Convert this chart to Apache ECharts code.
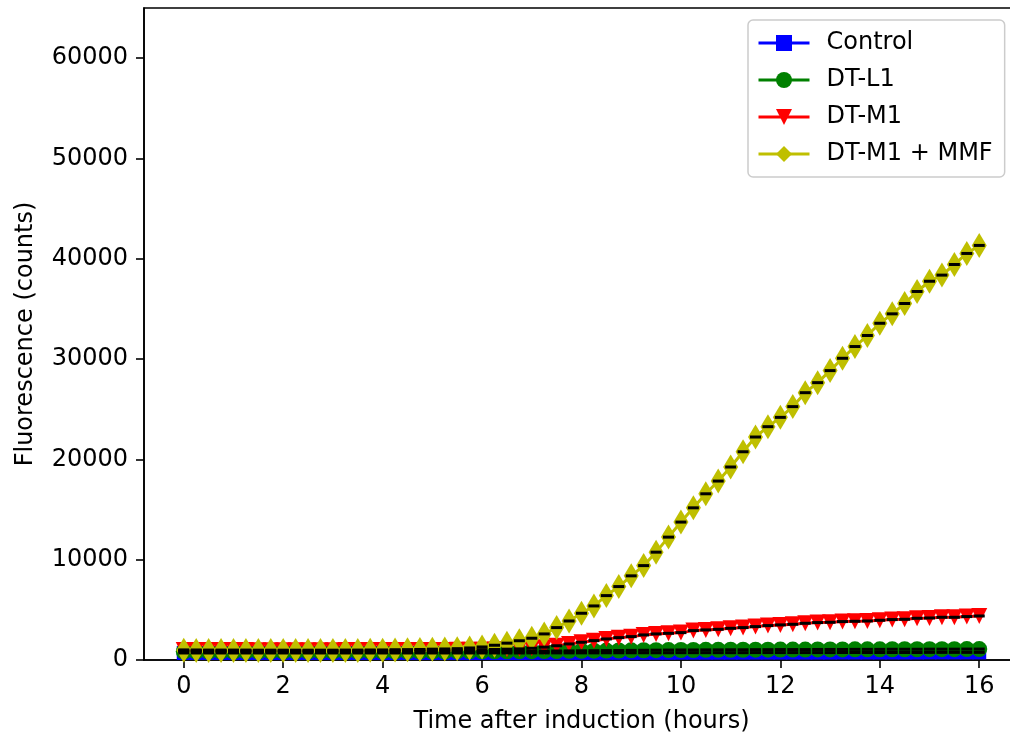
<!DOCTYPE html>
<html>
<head>
<meta charset="utf-8">
<script src="https://cdn.jsdelivr.net/npm/echarts@6/dist/echarts.min.js"></script>
<style>
html, body { margin: 0; padding: 0; background: #fff; }
#chart { width: 1010px; height: 737px; }
</style>
</head>
<body>
<div id="chart"></div>
<script>
// sampling times (hours after induction)
var hours = [
	0, 0.25, 0.5, 0.75, 1, 1.25, 1.5, 1.75, 2, 2.25, 2.5, 2.75, 3, 3.25, 3.5, 3.75,
	4, 4.25, 4.5, 4.75, 5, 5.25, 5.5, 5.75, 6, 6.25, 6.5, 6.75, 7, 7.25, 7.5, 7.75,
	8, 8.25, 8.5, 8.75, 9, 9.25, 9.5, 9.75, 10, 10.25, 10.5, 10.75, 11, 11.25, 11.5, 11.75,
	12, 12.25, 12.5, 12.75, 13, 13.25, 13.5, 13.75, 14, 14.25, 14.5, 14.75, 15, 15.25, 15.5, 15.75,
	16
];

var control = [
	700, 700, 700, 700, 700, 700, 700, 700, 700, 700, 700, 700, 700, 700, 700, 700,
	700, 700, 700, 700, 700, 700, 700, 700, 700, 700, 700, 700, 710, 710, 710, 710,
	710, 710, 720, 720, 720, 720, 720, 720, 730, 730, 730, 730, 730, 730, 740, 740,
	740, 740, 740, 740, 740, 750, 750, 750, 750, 750, 750, 750, 760, 760, 760, 760,
	760
];

var dtL1 = [
	850, 850, 840, 840, 840, 840, 830, 830, 830, 830, 830, 830, 830, 830, 840, 840,
	840, 840, 840, 850, 850, 850, 860, 860, 860, 870, 870, 880, 880, 890, 900, 910,
	920, 930, 940, 950, 960, 970, 980, 990, 1000, 1000, 1010, 1010, 1020, 1020, 1030, 1030,
	1040, 1040, 1040, 1050, 1050, 1050, 1060, 1060, 1060, 1070, 1070, 1070, 1080, 1080, 1080, 1090,
	1090
];

var dtM1 = [
	1000, 1000, 990, 990, 990, 990, 980, 980, 980, 980, 980, 980, 980, 990, 990, 990,
	990, 1000, 1000, 1000, 1000, 1000, 1010, 1010, 1030, 1050, 1080, 1110, 1170, 1280, 1420, 1600,
	1770, 1930, 2100, 2230, 2330, 2500, 2600, 2660, 2730, 2930, 3000, 3060, 3160, 3230, 3330, 3430,
	3500, 3560, 3660, 3730, 3760, 3830, 3860, 3890, 3960, 4030, 4060, 4160, 4190, 4260, 4260, 4330,
	4390
];

var dtM1Mmf = [
	960, 950, 950, 950, 950, 950, 950, 950, 950, 950, 950, 950, 950, 950, 950, 960,
	970, 1000, 1020, 1050, 1080, 1100, 1130, 1200, 1300, 1470, 1680, 1920, 2170, 2600, 3230, 3890,
	4660, 5390, 6420, 7320, 8390, 9410, 10750, 12250, 13750, 15170, 16570, 17840, 19240, 20760, 22230, 23260,
	24190, 25260, 26650, 27650, 28850, 30080, 31250, 32350, 33570, 34510, 35540, 36740, 37760, 38370, 39430, 40530,
	41330
];

var xTicks = [0, 2, 4, 6, 8, 10, 12, 14, 16];
var yTicks = [0, 10000, 20000, 30000, 40000, 50000, 60000];

var names = ["Control", "DT-L1", "DT-M1", "DT-M1 + MMF"];
var FONT = "DejaVu Sans";

function pairs(values) {
	return values.map(function (v, i) {
		return [hours[i], v];
	});
}

function lineSeries(name, values, color, symbol, size) {
	return {
		name: name,
		type: "line",
		z: 2,
		data: pairs(values),
		symbol: symbol,
		symbolSize: size,
		showAllSymbol: true,
		color: color,
		itemStyle: { color: color, opacity: 1 },
		lineStyle: { color: color, width: 3 }
	};
}

// error bar caps (errors are tiny, so both caps merge into one dash)
function capSeries(name, values) {
	return {
		name: name + " err",
		type: "scatter",
		z: 5,
		data: pairs(values),
		symbol: "rect",
		symbolSize: [11, 3],
		itemStyle: { color: "#000", opacity: 1 },
		silent: true
	};
}

var chart = echarts.init(document.getElementById("chart"), null, { renderer: "canvas" });

chart.setOption({
	animation: false,
	backgroundColor: "#fff",
	textStyle: { fontFamily: FONT, color: "#000" },
	grid: {
		left: 144,
		top: 8,
		width: 875,
		height: 652,
		outerBoundsMode: "none",
		containLabel: false,
		show: true,
		borderColor: "#000",
		borderWidth: 1.6,
		backgroundColor: "transparent"
	},
	legend: {
		data: names,
		orient: "vertical",
		left: 748,
		top: 20,
		padding: [11, 12, 11, 9],
		itemWidth: 51,
		itemHeight: 20,
		itemGap: 13,
		lineStyle: { width: 3 },
		backgroundColor: "rgba(255,255,255,0.8)",
		borderColor: "#cccccc",
		borderWidth: 1.5,
		borderRadius: 5,
		textStyle: {
			fontFamily: FONT,
			fontSize: 24,
			color: "#000",
			lineHeight: 24,
			padding: [0, 0, 0, 12]
		}
	},
	xAxis: {
		type: "value",
		min: -0.8,
		max: 16.8,
		name: "Time after induction (hours)",
		nameLocation: "middle",
		nameGap: 50,
		nameTextStyle: { fontFamily: FONT, fontSize: 24, color: "#000" },
		axisLine: { onZero: false, lineStyle: { color: "#000", width: 1.6 } },
		axisTick: { show: true, length: 8, lineStyle: { color: "#000", width: 1.6 }, customValues: xTicks },
		axisLabel: { fontFamily: FONT, fontSize: 24, color: "#000", margin: 15, customValues: xTicks },
		splitLine: { show: false }
	},
	yAxis: {
		type: "value",
		min: 0,
		max: 65000,
		name: "Fluorescence (counts)",
		nameLocation: "middle",
		nameGap: 106,
		nameRotate: 90,
		nameTextStyle: { fontFamily: FONT, fontSize: 24, color: "#000" },
		axisLine: { show: true, onZero: false, lineStyle: { color: "#000", width: 1.6 } },
		axisTick: { show: true, length: 8, lineStyle: { color: "#000", width: 1.6 }, customValues: yTicks },
		axisLabel: {
			fontFamily: FONT,
			fontSize: 24,
			color: "#000",
			margin: 16,
			customValues: yTicks,
			formatter: function (v) { return String(v); }
		},
		splitLine: { show: false }
	},
	series: [
		lineSeries(names[0], control, "#0000ff", "rect", 14),
		capSeries(names[0], control),
		lineSeries(names[1], dtL1, "#008000", "circle", 16),
		capSeries(names[1], dtL1),
		lineSeries(names[2], dtM1, "#ff0000", "path://M-1,-1L1,-1L0,1Z", 16),
		capSeries(names[2], dtM1),
		lineSeries(names[3], dtM1Mmf, "#bfbf00", "path://M0,-1L0.6,0L0,1L-0.6,0Z", [15, 25]),
		capSeries(names[3], dtM1Mmf)
	]
});
</script>
</body>
</html>
